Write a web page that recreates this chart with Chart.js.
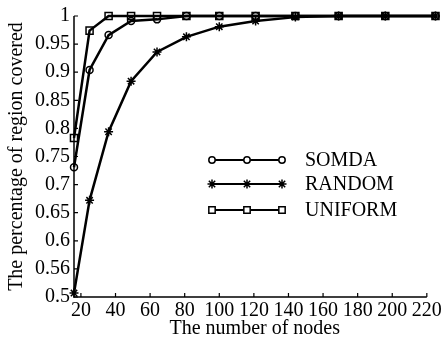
<!DOCTYPE html>
<html>
<head>
<meta charset="utf-8">
<script src="https://cdn.jsdelivr.net/npm/chart.js@4/dist/chart.umd.min.js"></script>
<style>
  html, body { margin: 0; padding: 0; background: #fff; }
  #wrap { width: 444px; height: 343px; }
</style>
</head>
<body>
<div id="wrap"><canvas id="chart" width="444" height="343"></canvas></div>
<script>
// number of nodes (x) and coverage per method
const nodes = [16, 25, 36, 49, 64, 81, 100, 121, 144, 169, 196, 225];
const somda = [0.731, 0.904, 0.966, 0.991, 0.994, 1, 1, 1, 1, 1, 1, 1];
const random = [0.507, 0.672, 0.794, 0.884, 0.936, 0.963, 0.981, 0.991, 0.998, 1, 1, 1];
const uniform = [0.783, 0.974, 1, 1, 1, 1, 1, 1, 1, 1, 1, 1];

const xTicks = [20, 40, 60, 80, 100, 120, 140, 160, 180, 200, 220];
const yTicks = [0.5, 0.55, 0.6, 0.65, 0.7, 0.75, 0.8, 0.85, 0.9, 0.95, 1];
const yTickLabels = ["0.5", "0.56", "0.6", "0.65", "0.7", "0.75", "0.8", "0.85", "0.9", "0.95", "1"];

const FONT = "'Liberation Serif', 'DejaVu Serif', serif";
const FS = 20;

function series(label, values, style, radius) {
  return {
    label: label,
    data: nodes.map((n, i) => ({ x: n, y: values[i] })),
    borderColor: "#000",
    borderWidth: 2.5,
    pointStyle: style,
    pointRadius: radius,
    pointBorderWidth: 1.5,
    pointBorderColor: "#000",
    pointBackgroundColor: "rgba(255,255,255,0)",
    clip: false,
    tension: 0,
  };
}

// axis lines stop at 220 and ticks point inward, like the original figure
const axesLines = {
  id: "axesLines",
  afterDraw(chart) {
    const ctx = chart.ctx;
    const xs = chart.scales.x, ys = chart.scales.y;
    const a = chart.chartArea;
    const xEnd = xs.getPixelForValue(xTicks[xTicks.length - 1]);
    ctx.save();
    ctx.strokeStyle = "#000";
    ctx.lineWidth = 1.5;
    ctx.beginPath();
    ctx.moveTo(a.left, a.top);
    ctx.lineTo(a.left, a.bottom);
    ctx.lineTo(xEnd, a.bottom);
    ctx.stroke();
    ctx.lineWidth = 1.2;
    ctx.beginPath();
    xTicks.forEach((t) => {
      const px = xs.getPixelForValue(t);
      ctx.moveTo(px, a.bottom);
      ctx.lineTo(px, a.bottom - 4);
    });
    yTicks.forEach((t) => {
      const py = ys.getPixelForValue(t);
      ctx.moveTo(a.left, py);
      ctx.lineTo(a.left + 4, py);
    });
    ctx.stroke();
    ctx.restore();
  },
};

// legend with a short line carrying three markers
const lineLegend = {
  id: "lineLegend",
  afterDraw(chart) {
    const ctx = chart.ctx;
    const rows = [160, 184, 210];
    ctx.save();
    chart.data.datasets.forEach((ds, i) => {
      const y = rows[i];
      ctx.strokeStyle = "#000";
      ctx.lineWidth = 2;
      ctx.beginPath();
      ctx.moveTo(211, y);
      ctx.lineTo(282, y);
      ctx.stroke();
      [212, 247, 282].forEach((x) => {
        ctx.fillStyle = "#fff";
        ctx.strokeStyle = "#000";
        ctx.lineWidth = 1.5;
        Chart.helpers.drawPoint(ctx, {
          pointStyle: ds.pointStyle,
          radius: ds.pointStyle === "rect" ? 4.5 : (ds.pointStyle === "star" ? 4.5 : 3.2),
          rotation: 0,
          borderWidth: 1.5,
        }, x, y);
      });
      ctx.fillStyle = "#000";
      ctx.font = FS + "px " + FONT;
      ctx.textBaseline = "middle";
      ctx.textAlign = "left";
      ctx.fillText(ds.label, 305, y + 1);
    });
    ctx.restore();
  },
};

new Chart(document.getElementById("chart"), {
  type: "line",
  data: {
    datasets: [
      series("SOMDA", somda, "circle", 3.5),
      series("RANDOM", random, "star", 4.5),
      series("UNIFORM", uniform, "rect", 5),
    ],
  },
  options: {
    responsive: false,
    animation: false,
    layout: { padding: { top: 13, right: 7, left: 0, bottom: 0 } },
    plugins: { legend: { display: false }, tooltip: { enabled: false } },
    scales: {
      x: {
        type: "linear",
        min: 16,
        max: 225,
        afterBuildTicks: (s) => { s.ticks = xTicks.map((v) => ({ value: v })); },
        afterFit: (s) => { s.height = 46; },
        grid: { display: false, drawTicks: false },
        border: { display: false },
        ticks: {
          color: "#000",
          font: { family: FONT, size: FS },
          padding: 2,
          maxRotation: 0,
          autoSkip: false,
          callback: (v) => String(v),
        },
        title: {
          display: true,
          text: "The number of nodes",
          color: "#000",
          font: { family: FONT, size: FS },
          padding: { top: 0, bottom: 2 },
        },
      },
      y: {
        min: 0.5,
        max: 1,
        afterBuildTicks: (s) => { s.ticks = yTicks.map((v) => ({ value: v })); },
        afterFit: (s) => { s.width = 74; },
        grid: { display: false, drawTicks: false },
        border: { display: false },
        ticks: {
          color: "#000",
          font: { family: FONT, size: FS },
          padding: 4,
          autoSkip: false,
          callback: (v, i) => yTickLabels[i],
        },
        title: {
          display: true,
          text: "The percentage of region covered",
          color: "#000",
          font: { family: FONT, size: FS },
          padding: { top: 5, bottom: 0 },
        },
      },
    },
  },
  plugins: [axesLines, lineLegend],
});
</script>
</body>
</html>
